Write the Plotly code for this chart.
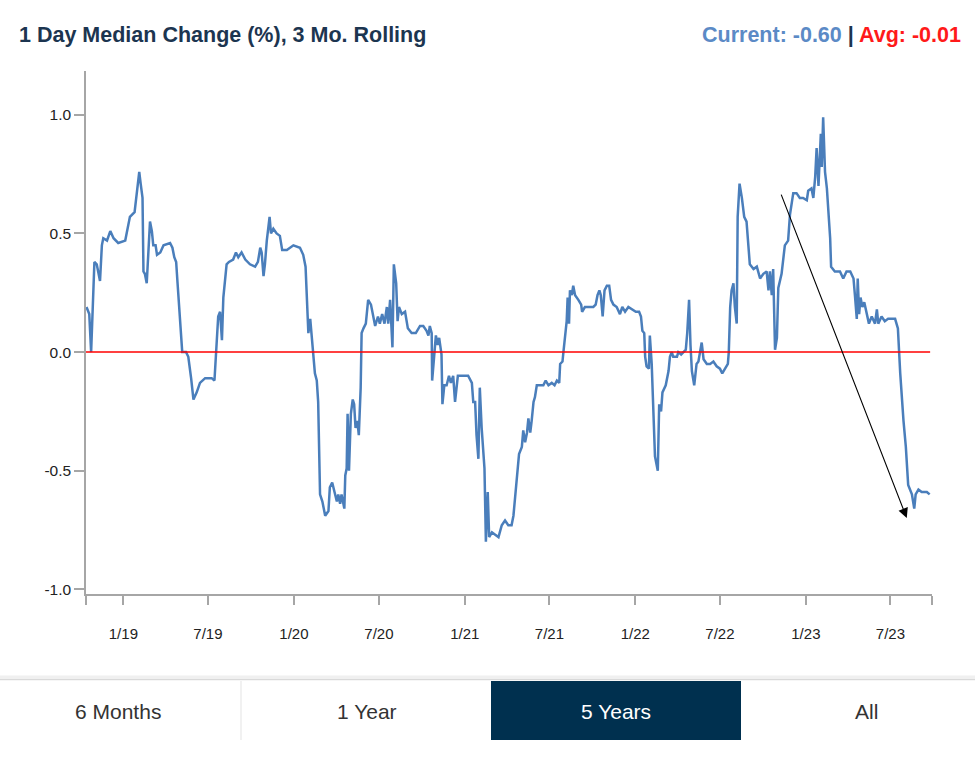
import pandas as pd
import plotly.graph_objects as go

# ---------------- data ----------------
origin = pd.Timestamp("2018-10-13")          # left edge of the 5-year window
axis_end_days = 1811                          # right edge of the window (days after origin)

day_offsets = [
    1, 7, 11, 14, 18, 23, 30, 34, 37, 45, 52, 59, 69, 84, 89, 94, 104, 109, 114, 117,
    121, 123, 126, 130, 134, 137, 141, 144, 149, 152, 159, 166, 180, 185, 189, 193, 196, 201, 206, 214,
    219, 225, 230, 237, 244, 255, 269, 275, 278, 283, 287, 291, 294, 301, 306, 315, 321, 326, 333, 341,
    351, 362, 368, 373, 376, 380, 383, 387, 393, 396, 401, 408, 415, 420, 430, 444, 458, 465, 470, 474,
    476, 480, 483, 487, 490, 494, 497, 501, 506, 512, 519, 522, 527, 532, 537, 540, 544, 547, 553, 555,
    558, 560, 563, 567, 571, 574, 577, 581, 584, 588, 590, 594, 599, 604, 610, 619, 625, 629, 634, 639,
    644, 647, 651, 656, 659, 664, 667, 670, 676, 683, 689, 697, 706, 715, 722, 729, 733, 736, 740, 741,
    745, 749, 753, 756, 761, 763, 767, 772, 777, 781, 786, 790, 796, 804, 818, 826, 829, 833, 836, 840,
    843, 847, 853, 856, 860, 863, 869, 876, 883, 890, 897, 904, 911, 915, 920, 924, 927, 933, 936, 940,
    944, 947, 951, 954, 958, 961, 965, 972, 979, 984, 990, 997, 1003, 1008, 1013, 1015, 1020, 1022, 1025, 1029,
    1031, 1034, 1036, 1040, 1043, 1047, 1054, 1060, 1062, 1068, 1079, 1086, 1091, 1095, 1099, 1102, 1106, 1110, 1115, 1120,
    1124, 1129, 1136, 1143, 1148, 1154, 1161, 1168, 1177, 1184, 1188, 1191, 1195, 1197, 1200, 1205, 1207, 1211, 1214, 1218,
    1224, 1227, 1231, 1234, 1241, 1247, 1250, 1254, 1257, 1265, 1268, 1274, 1279, 1284, 1287, 1291, 1294, 1297, 1302, 1307,
    1311, 1314, 1318, 1322, 1329, 1336, 1343, 1350, 1357, 1362, 1368, 1374, 1376, 1379, 1382, 1386, 1389, 1393, 1395, 1399,
    1404, 1409, 1414, 1418, 1421, 1429, 1436, 1443, 1450, 1457, 1461, 1464, 1468, 1471, 1475, 1479, 1482, 1489, 1496, 1503,
    1507, 1514, 1521, 1528, 1535, 1543, 1546, 1553, 1557, 1561, 1564, 1568, 1571, 1573, 1575, 1578, 1582, 1586, 1593, 1595,
    1603, 1614, 1621, 1628, 1636, 1643, 1646, 1650, 1652, 1655, 1658, 1662, 1666, 1671, 1676, 1682, 1689, 1693, 1696, 1703,
    1710, 1717, 1725, 1732, 1738, 1740, 1743, 1750, 1755, 1760, 1768, 1773, 1776, 1782, 1789, 1800, 1806,
]

median_change = [
    0.19, 0.16, 0.00, 0.19, 0.38, 0.37, 0.30, 0.45, 0.48, 0.47, 0.51, 0.48, 0.46, 0.47, 0.52, 0.57, 0.59, 0.67, 0.76, 0.71,
    0.65, 0.34, 0.33, 0.29, 0.44, 0.55, 0.51, 0.45, 0.45, 0.41, 0.42, 0.45, 0.46, 0.44, 0.40, 0.38, 0.29, 0.15, 0.00, 0.00,
    -0.02, -0.11, -0.20, -0.17, -0.13, -0.11, -0.11, -0.12, 0.00, 0.15, 0.17, 0.05, 0.23, 0.37, 0.38, 0.39, 0.42, 0.40, 0.42, 0.39,
    0.37, 0.36, 0.38, 0.44, 0.42, 0.32, 0.37, 0.47, 0.57, 0.50, 0.52, 0.50, 0.49, 0.43, 0.43, 0.45, 0.44, 0.41, 0.36, 0.15,
    0.08, 0.14, 0.08, -0.01, -0.09, -0.12, -0.21, -0.60, -0.63, -0.69, -0.67, -0.57, -0.55, -0.59, -0.63, -0.60, -0.64, -0.60, -0.66, -0.52,
    -0.49, -0.26, -0.50, -0.26, -0.20, -0.22, -0.32, -0.29, -0.35, -0.15, 0.08, 0.10, 0.12, 0.22, 0.20, 0.11, 0.15, 0.12, 0.16, 0.12,
    0.19, 0.12, 0.22, 0.02, 0.37, 0.29, 0.13, 0.19, 0.16, 0.17, 0.10, 0.08, 0.08, 0.11, 0.11, 0.09, 0.07, 0.11, 0.08, -0.12,
    -0.01, 0.07, 0.03, 0.06, -0.01, -0.22, -0.14, -0.14, -0.10, -0.13, -0.10, -0.21, -0.10, -0.10, -0.10, -0.13, -0.21, -0.21, -0.35, -0.45,
    -0.15, -0.32, -0.49, -0.80, -0.59, -0.78, -0.76, -0.77, -0.78, -0.73, -0.71, -0.73, -0.73, -0.69, -0.59, -0.50, -0.43, -0.40, -0.33, -0.38,
    -0.34, -0.28, -0.34, -0.29, -0.21, -0.19, -0.14, -0.14, -0.14, -0.12, -0.14, -0.13, -0.14, -0.12, -0.13, -0.05, -0.04, 0.00, 0.05, 0.13,
    0.23, 0.12, 0.26, 0.24, 0.28, 0.24, 0.22, 0.20, 0.17, 0.19, 0.19, 0.19, 0.20, 0.24, 0.26, 0.24, 0.15, 0.26, 0.28, 0.28,
    0.22, 0.20, 0.19, 0.16, 0.19, 0.17, 0.19, 0.18, 0.17, 0.17, 0.15, 0.09, 0.08, -0.02, -0.06, -0.07, 0.07, -0.05, -0.21, -0.44,
    -0.50, -0.22, -0.25, -0.17, -0.14, -0.08, -0.02, 0.00, -0.02, -0.02, 0.00, -0.01, 0.00, 0.01, 0.08, 0.22, 0.03, -0.08, -0.14, -0.05,
    -0.04, 0.00, 0.04, -0.03, -0.05, -0.05, -0.04, -0.06, -0.07, -0.09, -0.07, -0.05, 0.00, 0.19, 0.26, 0.29, 0.19, 0.12, 0.57, 0.71,
    0.65, 0.57, 0.55, 0.45, 0.37, 0.35, 0.36, 0.31, 0.33, 0.34, 0.26, 0.34, 0.24, 0.35, 0.01, 0.06, 0.27, 0.33, 0.45, 0.47,
    0.58, 0.67, 0.67, 0.65, 0.65, 0.64, 0.68, 0.69, 0.65, 0.74, 0.86, 0.70, 0.85, 0.92, 0.78, 0.99, 0.76, 0.69, 0.48, 0.36,
    0.34, 0.34, 0.31, 0.34, 0.34, 0.31, 0.24, 0.14, 0.31, 0.16, 0.23, 0.19, 0.21, 0.16, 0.12, 0.15, 0.12, 0.18, 0.12, 0.15,
    0.13, 0.14, 0.14, 0.14, 0.10, -0.01, -0.09, -0.29, -0.40, -0.56, -0.60, -0.66, -0.60, -0.58, -0.59, -0.59, -0.60,
]

current_value = -0.60
average_value = -0.01
reference_level = 0.0

tick_dates = ["2019-01-01", "2019-07-01", "2020-01-01", "2020-07-01", "2021-01-01",
              "2021-07-01", "2022-01-01", "2022-07-01", "2023-01-01", "2023-07-01"]
tick_labels = ["1/19", "7/19", "1/20", "7/20", "1/21", "7/21", "1/22", "7/22", "1/23", "7/23"]
y_ticks = [1.0, 0.5, 0.0, -0.5, -1.0]

# annotation arrow (data coordinates)
arrow_tail_days, arrow_tail_value = 1487, 0.67
arrow_head_days, arrow_head_value = 1757, -0.70

range_buttons = ["6 Months", "1 Year", "5 Years", "All"]
active_button = "5 Years"

# ---------------- layout helpers ----------------
W, H = 975, 758
ML, MR, MT, MB = 86, 43, 71, 164
PW, PH = W - ML - MR, H - MT - MB


def px(x):
    return (x - ML) / PW


def py(y):
    return (H - MB - y) / PH


dates = origin + pd.to_timedelta(day_offsets, unit="D")
x_start = origin
x_end = origin + pd.Timedelta(days=axis_end_days)

FONT = "Liberation Sans, Arial, Helvetica, sans-serif"
LINE_BLUE = "#4a7ebb"
NAVY = "#00304f"

fig = go.Figure()
fig.add_trace(go.Scatter(
    x=dates, y=median_change, mode="lines",
    line=dict(color=LINE_BLUE, width=2.5),
    hoverinfo="x+y", showlegend=False,
))

all_tickvals = [x_start] + [pd.Timestamp(d) for d in tick_dates] + [x_end]
all_ticktext = [""] + tick_labels + [""]

fig.update_xaxes(
    type="date", range=[x_start, x_end],
    tickvals=all_tickvals, ticktext=all_ticktext,
    ticks="outside", ticklen=9, tickwidth=1.5, tickcolor="#a6a6a6",
    showline=True, linecolor="#a6a6a6", linewidth=1.5,
    showgrid=False, zeroline=False,
    tickfont=dict(family=FONT, size=15, color="#222"),
    ticklabelstandoff=16,
)
fig.update_yaxes(
    range=[-1.02, 1.185],
    tickvals=y_ticks, ticktext=[f"{v:.1f}" for v in y_ticks],
    ticks="outside", ticklen=10, tickwidth=1.5, tickcolor="#a6a6a6",
    showline=True, linecolor="#a6a6a6", linewidth=1.5,
    showgrid=False, zeroline=False,
    tickfont=dict(family=FONT, size=15.5, color="#222"),
)

shapes = []
# reference (zero) line
shapes.append(dict(type="line", xref="x", yref="y", x0=x_start, x1=x_end - pd.Timedelta(days=4),
                   y0=reference_level, y1=reference_level, line=dict(color="#ff0000", width=1.6), layer="above"))
# button bar top border
shapes.append(dict(type="line", xref="paper", yref="paper", x0=px(0), x1=px(W), y0=py(677), y1=py(677),
                   line=dict(color="#f0f0f0", width=3)))
shapes.append(dict(type="line", xref="paper", yref="paper", x0=px(0), x1=px(W), y0=py(679.5), y1=py(679.5),
                   line=dict(color="#d9d9d9", width=1.5)))
# separator between first two buttons
shapes.append(dict(type="line", xref="paper", yref="paper", x0=px(241), x1=px(241), y0=py(681), y1=py(740),
                   line=dict(color="#e3e3e3", width=1)))
# active button
shapes.append(dict(type="rect", xref="paper", yref="paper", x0=px(491), x1=px(741), y0=py(681), y1=py(740),
                   fillcolor=NAVY, line=dict(width=0)))

annotations = []
annotations.append(dict(
    xref="paper", yref="paper", x=px(17), y=py(35), xanchor="left", yanchor="middle",
    text="<b>1 Day Median Change (%), 3 Mo. Rolling</b>", showarrow=False,
    font=dict(family=FONT, size=21.5, color="#1c3550"),
))
annotations.append(dict(
    xref="paper", yref="paper", x=px(963), y=py(35), xanchor="right", yanchor="middle",
    text=(f"<b><span style='color:#5b8ac6'>Current: {current_value:.2f}</span>"
          f"<span style='color:#1c3550'> | </span>"
          f"<span style='color:#ff1a1a'>Avg: {average_value:.2f}</span></b>"),
    showarrow=False, font=dict(family=FONT, size=21.5),
))
button_centers = [118, 367, 616, 866]
for label, cx in zip(range_buttons, button_centers):
    annotations.append(dict(
        xref="paper", yref="paper", x=px(cx), y=py(711), xanchor="center", yanchor="middle",
        text=label, showarrow=False,
        font=dict(family=FONT, size=21, color="#ffffff" if label == active_button else "#333333"),
    ))
# black arrow
annotations.append(dict(
    xref="x", yref="y", axref="x", ayref="y",
    x=origin + pd.Timedelta(days=arrow_head_days), y=arrow_head_value,
    ax=origin + pd.Timedelta(days=arrow_tail_days), ay=arrow_tail_value,
    text="", showarrow=True, arrowhead=2, arrowsize=1.8, arrowwidth=1.1, arrowcolor="#000000",
))

fig.update_layout(
    width=W, height=H,
    margin=dict(l=ML, r=MR, t=MT, b=MB, pad=0),
    paper_bgcolor="white", plot_bgcolor="white",
    shapes=shapes, annotations=annotations,
    font=dict(family=FONT),
    showlegend=False,
)

fig.write_html("out.html")
